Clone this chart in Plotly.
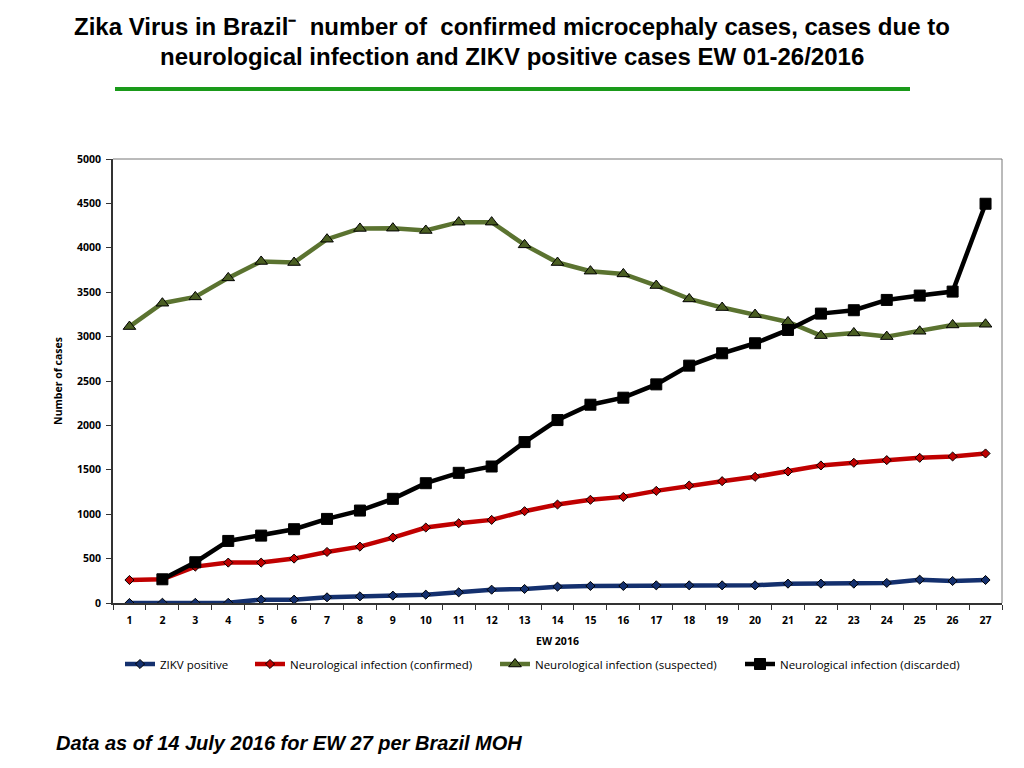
import plotly.graph_objects as go

weeks = [str(w) for w in range(1, 28)]

zikv_positive = [0, 3, 2, 2, 38, 38, 64, 75, 83, 94, 120, 150, 158, 184, 192,
                 192, 199, 199, 199, 199, 218, 218, 218, 226, 263, 248, 259]
neuro_confirmed = [259, 267, 410, 455, 455, 500, 575, 635, 737, 850, 898, 936, 1034, 1109,
                   1162, 1195, 1263, 1323, 1372, 1421, 1481, 1549, 1579, 1609, 1635, 1650, 1684]
neuro_suspected = [3113, 3376, 3447, 3661, 3846, 3834, 4097, 4218, 4221, 4195, 4289, 4289, 4033,
                   3834, 3737, 3706, 3575, 3424, 3327, 3248, 3165, 3011, 3041, 3000, 3060, 3131, 3139]
neuro_discarded = [None, 267, 459, 699, 759, 831, 947, 1041, 1173, 1349, 1466, 1537, 1812, 2060,
                   2233, 2312, 2462, 2673, 2812, 2925, 3075, 3259, 3297, 3413, 3462, 3507, 4496]

title_lines = ["Zika Virus in Brazil\u207b  number of  confirmed microcephaly cases, cases due to",
               "neurological infection and ZIKV positive cases EW 01-26/2016"]
footnote = "Data as of 14 July 2016 for EW 27 per Brazil MOH"

# the page body adds an 8px offset, so layout pixels are reference pixels minus 8
OFF = 8
L, R, T, B = 113 - OFF, 1002 - OFF, 159 - OFF, 603 - OFF
W, H = R - L, B - T


def px(x):
    return (x - OFF - L) / W


def py(y):
    return (B - (y - OFF)) / H


series = [
    ("ZIKV positive", zikv_positive, "#14306E", "#14306E", "diamond", 7, 120),
    ("Neurological infection (confirmed)", neuro_confirmed, "#C00000", "#C00000", "diamond", 7, 250),
    ("Neurological infection (suspected)", neuro_suspected, "#5B7330", "#4A5E22", "triangle-up", 11, 495),
    ("Neurological infection (discarded)", neuro_discarded, "#000000", "#000000", "square", 11, 740),
]

legend_font = dict(family="Open Sans, Calibri, sans-serif", size=11.5, color="#000000")

fig = go.Figure()
legends = {}
for i, (name, vals, line_col, mark_col, sym, size, leg_x) in enumerate(series):
    key = "legend" if i == 0 else "legend%d" % (i + 1)
    fig.add_trace(go.Scatter(
        x=weeks, y=vals, name=name, mode="lines+markers", legend=key,
        line=dict(color=line_col, width=4.5),
        marker=dict(symbol=sym, size=size, color=mark_col,
                    line=dict(color="#000000", width=1)),
    ))
    legends[key] = dict(x=px(leg_x), y=py(664), xanchor="left", yanchor="middle",
                        orientation="h", font=legend_font, itemwidth=30,
                        bgcolor="rgba(0,0,0,0)")

font = "Liberation Sans, Arial, sans-serif"
tick_font = dict(family="Open Sans, Calibri, sans-serif", size=10.5, color="#000000", weight="bold")

fig.update_layout(
    width=1024, height=768,
    paper_bgcolor="white", plot_bgcolor="white",
    margin=dict(l=L, r=1024 - R, t=T, b=768 - B),
    showlegend=True,
    xaxis=dict(
        type="category", range=[-0.5, 26.5], tickson="boundaries", ticks="outside",
        ticklen=5, tickcolor="#333333", showline=True, linecolor="#333333", linewidth=2,
        showgrid=False, tickfont=tick_font, automargin=False, ticklabelstandoff=6,
        title=dict(text="EW 2016", font=tick_font, standoff=12),
    ),
    yaxis=dict(
        range=[0, 5000], dtick=500, ticks="outside", ticklen=5, tickcolor="#333333",
        showline=True, linecolor="#333333", linewidth=2, showgrid=False,
        zeroline=False, tickfont=tick_font, automargin=False, ticklabelstandoff=3,
        title=dict(text="Number of cases", font=tick_font, standoff=12),
    ),
    **legends,
)

# thin grey frame on top and right of the plot area
fig.add_shape(type="line", xref="paper", yref="paper", x0=0, x1=1, y0=1, y1=1,
              line=dict(color="#777777", width=1))
fig.add_shape(type="line", xref="paper", yref="paper", x0=1, x1=1, y0=0, y1=1,
              line=dict(color="#777777", width=1))

for i, line in enumerate(title_lines):
    fig.add_annotation(text="<b>" + line + "</b>", xref="paper", yref="paper",
                       x=px(512), y=py(27 + 30 * i), xanchor="center", yanchor="middle",
                       showarrow=False, font=dict(family=font, size=24, color="#000000"))

fig.add_shape(type="line", xref="paper", yref="paper",
              x0=px(115), x1=px(910), y0=py(89), y1=py(89),
              line=dict(color="#1A9A1A", width=4))

fig.add_annotation(text="<b><i>" + footnote + "</i></b>", xref="paper", yref="paper",
                   x=px(54), y=py(743), xanchor="left", yanchor="middle",
                   showarrow=False, font=dict(family=font, size=20, color="#000000"))

fig.write_html("out.html")
